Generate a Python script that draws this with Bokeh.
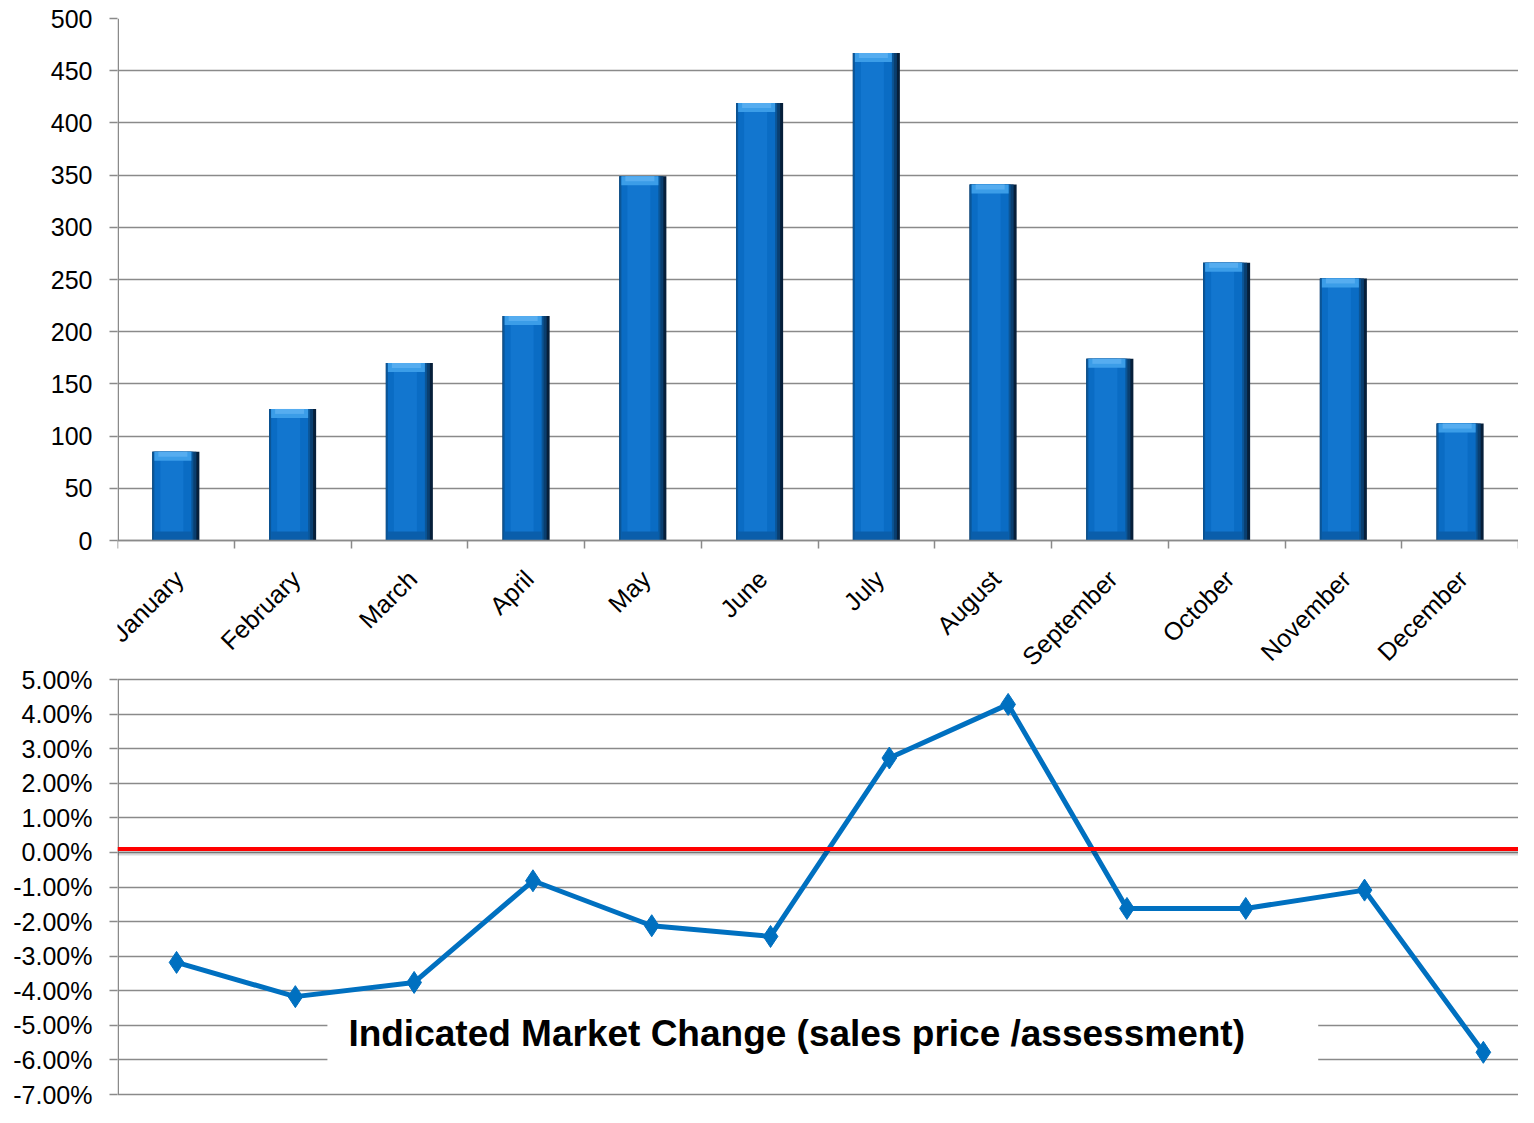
import numpy as np
from bokeh.plotting import figure
from bokeh.models import (FixedTicker, Span, BoxAnnotation, Label, Range1d, LinearAxis, Grid)
from bokeh.embed import file_html
from bokeh.resources import INLINE

months = ["January", "February", "March", "April", "May", "June", "July",
          "August", "September", "October", "November", "December"]
sales_count = [85, 126, 170, 215, 349, 419, 467, 341, 174, 266, 251, 112]
market_change = [-3.18, -4.17, -3.76, -0.82, -2.12, -2.43, 2.73, 4.28, -1.62, -1.62, -1.09, -5.78]
count_ticks = list(range(0, 501, 50))
pct_ticks = list(range(-7, 6))
bottom_title = "Indicated Market Change (sales price /assessment)"

GRID = "#8a8a8a"
FONT = "Liberation Sans"
FS = "25px"

# ---- page layout (pixels) ----
W, H = 1518, 1107
LEFT, TOPB, BOTB = 117, 18, 10
F_TOP, F_BOT = TOPB, H - BOTB          # frame top / bottom
ZERO_PX = 540                          # bar baseline
P_TOP_PX, P_BOT_PX = 679, F_BOT - 3    # 5% and -7% of the lower chart
CAT_PX = 118.8                         # category step of the lower chart

n = len(months)
x_pos = np.arange(n) + 0.5
vals = np.array(sales_count, dtype=float)

px = n / (W - LEFT)                                   # x units per pixel (bars)
py = count_ticks[-1] / (ZERO_PX - F_TOP)              # count units per pixel
YMIN = -(F_BOT - ZERO_PX) * py
pmin, pmax5 = pct_ticks[0], pct_ticks[-1]
pp = (pmax5 - pmin) / (P_BOT_PX - P_TOP_PX)           # percent per pixel
PMAX = pmax5 + (P_TOP_PX - F_TOP) * pp
PMIN = pmin - (F_BOT - P_BOT_PX) * pp

p = figure(width=W, height=H, output_backend="svg", toolbar_location=None,
           x_range=Range1d(0, n), y_range=Range1d(YMIN, count_ticks[-1]),
           x_axis_location=None,
           min_border_left=LEFT, min_border_right=0, min_border_top=TOPB, min_border_bottom=BOTB)
p.extra_x_ranges = {"line": Range1d(0.003, 0.003 + (W - LEFT) / CAT_PX)}
p.extra_y_ranges = {"pct": Range1d(PMIN, PMAX)}
p.outline_line_color = None
p.xgrid.visible = False


def to_main(v):
    return YMIN + (v - PMIN) / (PMAX - PMIN) * (count_ticks[-1] - YMIN)


# grids
p.ygrid.ticker = FixedTicker(ticks=count_ticks)
p.ygrid.grid_line_color = GRID
p.ygrid.grid_line_width = 1.5
p.add_layout(Grid(dimension=1, y_range_name="pct", ticker=FixedTicker(ticks=pct_ticks),
                  grid_line_color=GRID, grid_line_width=1.5))

# shared left axis carrying both tick sets
ya = p.yaxis[0]
pct_main = [to_main(v) for v in pct_ticks]
ya.ticker = FixedTicker(ticks=[float(t) for t in count_ticks] + pct_main)
overrides = {float(t): str(t) for t in count_ticks}
overrides.update({m: f"{v:.2f}%" for m, v in zip(pct_main, pct_ticks)})
ya.major_label_overrides = overrides
ya.axis_line_color = None
ya.major_label_text_font = FONT
ya.major_label_text_font_size = FS
ya.major_label_text_color = "#000000"
ya.major_tick_line_color = GRID
ya.major_tick_line_width = 1.5
ya.major_tick_out = 8
ya.major_tick_in = 0
ya.minor_tick_line_color = None
ya.major_label_standoff = 17

# vertical axis lines of the two charts
p.add_layout(BoxAnnotation(left=0, right=1.5 * px, bottom=0, top=count_ticks[-1],
                           fill_color=GRID, fill_alpha=1, line_color=None))
p.add_layout(BoxAnnotation(left=0, right=1.5 * px, bottom=pmin, top=pmax5, y_range_name="pct",
                           fill_color=GRID, fill_alpha=1, line_color=None))

# category axis of the bar chart, drawn at value 0
xa = LinearAxis(fixed_location=0, ticker=FixedTicker(ticks=[], minor_ticks=list(range(n + 1))),
                axis_line_color=GRID, axis_line_width=1.5,
                major_tick_line_color=None, major_tick_in=0, major_tick_out=0,
                minor_tick_line_color=GRID, minor_tick_line_width=1.5,
                minor_tick_in=8, minor_tick_out=0,
                major_label_text_font_size="1px", major_label_standoff=0)
p.add_layout(xa, "above")

# ---- bevelled bars ----
BW = 47


def layer(a, b, color, bottom=0, top_vals=vals):
    p.vbar(x=x_pos + (a - b) / 2 * px, top=top_vals, bottom=bottom,
           width=(BW - a - b) * px, fill_color=color, line_color=None)


layer(0, 0, "#061f3a")
layer(0, 3, "#0a3f70")
layer(0, 6, "#0b5596")
layer(2, 8, "#0a6cc4")
layer(8, 16, "#1276cf")
layer(2, 8, "#3b9de8", bottom=vals - 9 * py)
layer(6, 12, "#56adf0", bottom=vals - 5 * py)
layer(2, 8, "#0a5eab", bottom=0, top_vals=9 * py)

# month labels below the bars
for xm, m in zip(x_pos, months):
    p.add_layout(Label(x=xm + 3 * px, y=-34 * py, text=m, angle=np.pi / 4,
                       text_align="right", text_baseline="middle", text_font=FONT,
                       text_font_size=FS, text_color="#000000"))

# ---- market change line ----
p.add_layout(Span(location=0.0, dimension="width", y_range_name="pct", line_color="#000000",
                  line_alpha=0.15, line_width=6))
p.add_layout(Span(location=0.1, dimension="width", y_range_name="pct",
                  line_color="#ff0000", line_width=4))

p.line(x_pos, market_change, x_range_name="line", y_range_name="pct",
       line_color="#0070c0", line_width=5)
p.scatter(x_pos, market_change, x_range_name="line", y_range_name="pct",
          marker="diamond", size=22, fill_color="#0070c0", line_color="#0070c0")

p.add_layout(BoxAnnotation(left=1.77, right=10.11, top=-4.45, bottom=-6.3,
                           x_range_name="line", y_range_name="pct",
                           fill_color="#ffffff", fill_alpha=1.0, line_color=None))
p.add_layout(Label(x=5.72, y=-5.25, x_range_name="line", y_range_name="pct",
                   text=bottom_title, text_align="center", text_baseline="middle",
                   text_font=FONT, text_font_style="bold", text_font_size="37px",
                   text_color="#000000"))

open("out.html", "w").write(file_html(p, INLINE))
